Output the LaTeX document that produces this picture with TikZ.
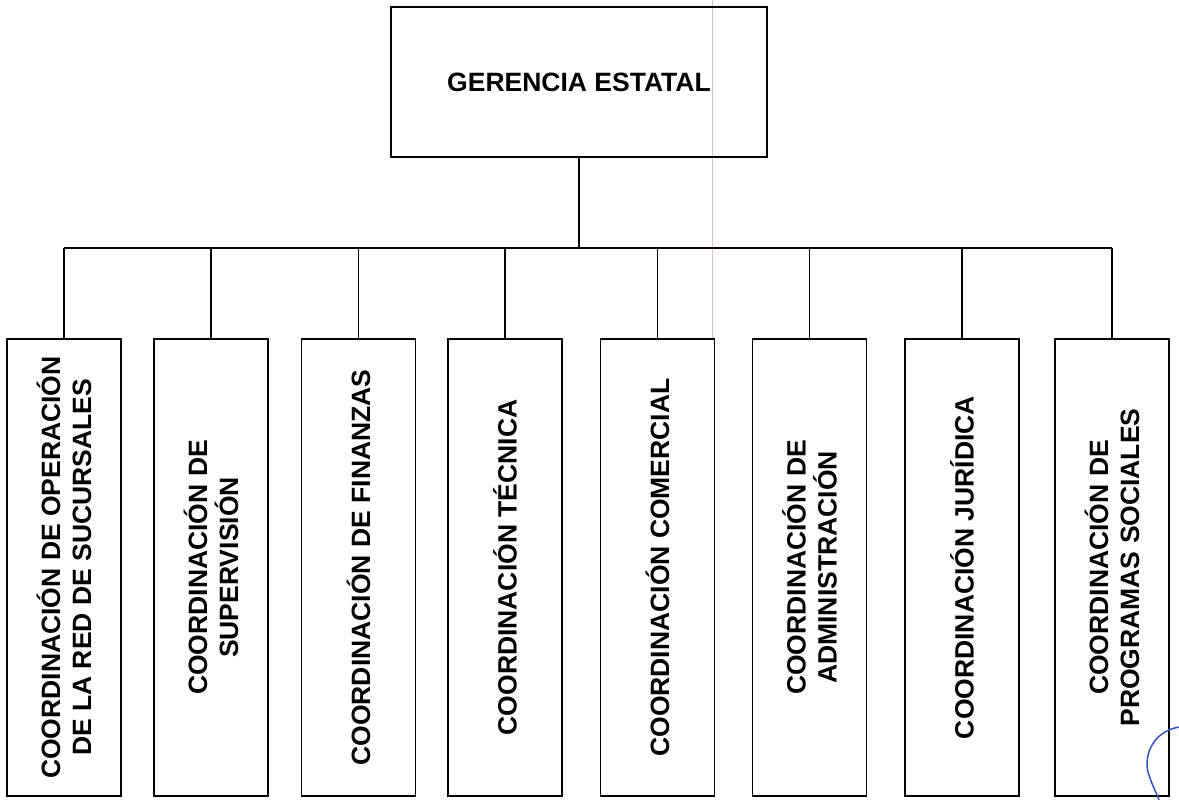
\documentclass[tikz,border=0pt]{standalone}
\usepackage{fontspec}
\setmainfont{Liberation Sans}
\definecolor{markpurple}{RGB}{222,186,236}
\definecolor{penblue}{RGB}{52,82,196}
\begin{document}
\begin{tikzpicture}[x=1pt,y=-1pt,
  orgline/.style={line width=1.6pt,black},
  headbox/.style={draw,line width=1.6pt,minimum width=376pt,minimum height=150pt,
    font=\fontsize{26.5pt}{31pt}\selectfont\bfseries,inner sep=0pt},
  unitbox/.style={draw,line width=1.6pt,rotate=90,minimum width=457pt,minimum height=114pt,
    font=\fontsize{26.5pt}{31pt}\selectfont\bfseries,align=center,inner sep=0pt}]
\useasboundingbox (0,0) rectangle (1179,800);
\fill[white] (0,0) rectangle (1179,800);

% thin guide line running down the sheet
\draw[markpurple,line width=1.2pt] (712.5,0) -- (712.5,339);

% head office
\node[headbox] (ge) at (579,82) {GERENCIA ESTATAL};

% coordination units
\node[unitbox] (c1) at (64,567.5)   {COORDINACIÓN DE OPERACIÓN\\DE LA RED DE SUCURSALES};
\node[unitbox] (c2) at (211,567.5)  {COORDINACIÓN DE\\SUPERVISIÓN};
\node[unitbox] (c3) at (358.5,567.5){COORDINACIÓN DE FINANZAS};
\node[unitbox] (c4) at (505,567.5)  {COORDINACIÓN TÉCNICA};
\node[unitbox] (c5) at (657.5,567.5){COORDINACIÓN COMERCIAL};
\node[unitbox] (c6) at (809.5,567.5){COORDINACIÓN DE\\ADMINISTRACIÓN};
\node[unitbox] (c7) at (962,567.5)  {COORDINACIÓN JURÍDICA};
\node[unitbox] (c8) at (1112,567.5) {COORDINACIÓN DE\\PROGRAMAS SOCIALES};

% connectors
\coordinate (bus) at (579,248);
\draw[orgline] (ge.south) -- (bus);
\draw[orgline] (c1.east |- bus) -- (c8.east |- bus);
\foreach \n in {c1,c2,c3,c4,c5,c6,c7,c8}
  \draw[orgline] (\n.east) -- (\n.east |- bus);

% pen stroke at the lower right corner
\draw[penblue,line width=1.5pt] (1179,727) .. controls (1150,732) and (1143,760) .. (1149,775)
  .. controls (1152,785) and (1156,792) .. (1159,800);
\end{tikzpicture}
\end{document}
